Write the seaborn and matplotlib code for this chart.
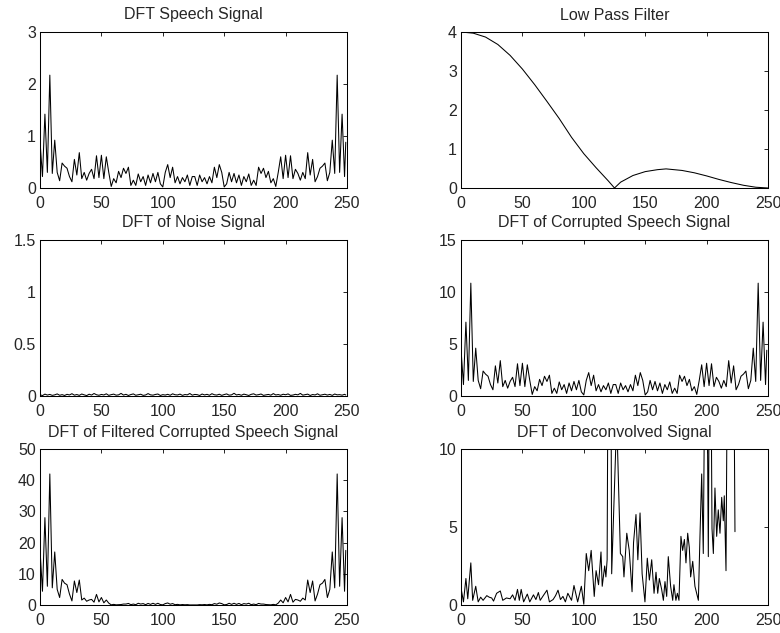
import matplotlib
matplotlib.use("Agg")
import matplotlib.pyplot as plt
import seaborn as sns
import pandas as pd

# ---------------- data ----------------
bins = list(range(0, 250, 2)) + [249]

speech = [0.90, 0.22, 1.42, 0.30, 2.17, 0.28, 0.92, 0.30, 0.14, 0.48,
          0.42, 0.38, 0.22, 0.12, 0.55, 0.25, 0.68, 0.18, 0.30, 0.15,
          0.28, 0.36, 0.18, 0.62, 0.20, 0.63, 0.18, 0.60, 0.30, 0.03,
          0.18, 0.10, 0.32, 0.20, 0.38, 0.28, 0.40, 0.05, 0.15, 0.05,
          0.27, 0.12, 0.22, 0.05, 0.25, 0.10, 0.28, 0.12, 0.30, 0.08,
          0.02, 0.30, 0.45, 0.20, 0.40, 0.10, 0.22, 0.08, 0.20, 0.12,
          0.25, 0.05, 0.22,
          0.22, 0.05, 0.25, 0.12, 0.20, 0.08, 0.22, 0.10, 0.40, 0.20,
          0.45, 0.30, 0.02, 0.08, 0.30, 0.12, 0.28, 0.10, 0.25, 0.05,
          0.22, 0.12, 0.27, 0.05, 0.15, 0.05, 0.40, 0.28, 0.38, 0.20,
          0.32, 0.10, 0.18, 0.03, 0.30, 0.60, 0.18, 0.63, 0.20, 0.62,
          0.18, 0.36, 0.28, 0.15, 0.30, 0.18, 0.68, 0.25, 0.55, 0.12,
          0.22, 0.38, 0.42, 0.48, 0.14, 0.30, 0.92, 0.28, 2.17, 0.30,
          1.42, 0.22, 0.88]

noise = [0.012, 0.004, 0.018, 0.009, 0.015, 0.006, 0.011, 0.020, 0.007, 0.013,
         0.005, 0.016, 0.010, 0.022, 0.008, 0.014, 0.006, 0.019, 0.011, 0.004,
         0.017, 0.009, 0.024, 0.012, 0.007, 0.015, 0.010, 0.021, 0.006, 0.013,
         0.018, 0.008, 0.011, 0.025, 0.009, 0.016, 0.005, 0.014, 0.020, 0.007,
         0.012, 0.017, 0.006, 0.010, 0.023, 0.011, 0.008, 0.015, 0.019, 0.005,
         0.013, 0.009, 0.016, 0.007, 0.021, 0.012, 0.010, 0.018, 0.006, 0.014,
         0.011, 0.024, 0.008, 0.015, 0.013, 0.005, 0.019, 0.010, 0.016, 0.007,
         0.022, 0.012, 0.009, 0.017, 0.006, 0.014, 0.020, 0.008, 0.011, 0.026,
         0.010, 0.015, 0.007, 0.018, 0.012, 0.005, 0.016, 0.021, 0.009, 0.013,
         0.019, 0.006, 0.011, 0.015, 0.008, 0.023, 0.010, 0.014, 0.007, 0.017,
         0.012, 0.020, 0.006, 0.009, 0.016, 0.011, 0.025, 0.008, 0.013, 0.018,
         0.005, 0.014, 0.010, 0.021, 0.007, 0.012, 0.017, 0.009, 0.015, 0.006,
         0.019, 0.011, 0.013, 0.008, 0.016, 0.010]

corrupted = [4.5, 1.1, 7.1, 1.5, 10.85, 1.4, 4.6, 1.5, 0.7, 2.4,
             2.1, 1.9, 1.1, 0.6, 2.9, 1.25, 3.4, 0.9, 1.5, 0.75,
             1.4, 1.8, 0.9, 3.1, 1.0, 3.15, 0.9, 3.0, 1.5, 0.15,
             0.9, 0.5, 1.6, 1.0, 1.9, 1.4, 2.0, 0.25, 0.75, 0.25,
             1.35, 0.6, 1.1, 0.25, 1.25, 0.5, 1.4, 0.6, 1.5, 0.4,
             0.1, 1.5, 2.25, 1.0, 2.0, 0.5, 1.1, 0.4, 1.0, 0.6,
             1.25, 0.25, 1.1,
             1.1, 0.25, 1.25, 0.6, 1.0, 0.4, 1.1, 0.5, 2.0, 1.0,
             2.25, 1.5, 0.1, 0.4, 1.5, 0.6, 1.4, 0.5, 1.25, 0.25,
             1.1, 0.6, 1.35, 0.25, 0.75, 0.25, 2.0, 1.4, 1.9, 1.0,
             1.6, 0.5, 0.9, 0.15, 1.5, 3.0, 0.9, 3.15, 1.0, 3.1,
             0.9, 1.8, 1.4, 0.75, 1.5, 0.9, 3.4, 1.25, 2.9, 0.6,
             1.1, 1.9, 2.1, 2.4, 0.7, 1.5, 4.6, 1.4, 10.85, 1.5,
             7.1, 1.1, 4.4]

filtered = [17.8, 4.4, 28.0, 6.0, 42.0, 5.5, 17.0, 5.0, 2.4, 8.2,
            7.0, 6.5, 3.5, 1.3, 7.7, 4.0, 8.0, 1.6, 2.2, 1.2,
            1.6, 1.8, 0.9, 3.4, 1.0, 2.4, 0.7, 1.6, 0.6, 0.05,
            0.2, 0.05, 0.1, 0.15, 0.3, 0.3, 0.5, 0.1, 0.3, 0.1,
            0.55, 0.3, 0.45, 0.1, 0.5, 0.2, 0.55, 0.2, 0.55, 0.15,
            0.05, 0.45, 0.65, 0.25, 0.45, 0.1, 0.2, 0.05, 0.15, 0.07,
            0.12, 0.02, 0.03,
            0.03, 0.02, 0.12, 0.07, 0.15, 0.05, 0.2, 0.1, 0.45, 0.25,
            0.65, 0.45, 0.05, 0.15, 0.55, 0.2, 0.55, 0.2, 0.5, 0.1,
            0.45, 0.3, 0.55, 0.1, 0.3, 0.1, 0.5, 0.3, 0.3, 0.15,
            0.1, 0.05, 0.2, 0.05, 0.6, 1.6, 0.7, 2.4, 1.0, 3.4,
            0.9, 1.8, 1.6, 1.2, 2.2, 1.6, 8.0, 4.0, 7.7, 1.3,
            3.5, 6.5, 7.0, 8.2, 2.4, 5.0, 17.0, 5.5, 42.0, 6.0,
            28.0, 4.4, 17.5]

lpf_k = [0, 10, 20, 30, 40, 50, 60, 70, 80, 90, 100, 110, 120, 125,
         130, 140, 150, 160, 167, 180, 190, 200, 210, 220, 230, 240, 250]
lpf_mag = [4.0, 3.97, 3.87, 3.68, 3.40, 3.05, 2.65, 2.22, 1.78, 1.30, 0.88,
           0.52, 0.18, 0.0, 0.15, 0.32, 0.42, 0.47, 0.49, 0.45, 0.39,
           0.31, 0.22, 0.14, 0.07, 0.02, 0.0]

deconv_k = [0, 2, 4, 5.5, 8, 9.5, 12, 14, 16, 18, 21, 23, 25, 26.5, 29, 32,
            34, 37, 40, 42, 44, 46, 47.5, 49, 51, 54, 56, 59, 61, 63, 64.5,
            67, 70, 72, 75, 77, 79, 81, 83, 85, 87, 90, 92, 95, 98, 100,
            102, 104, 106, 108.5, 110, 112, 114, 115, 117, 118, 119, 121,
            122.7, 126.8, 129.8, 131.7, 132.7, 135, 137, 139.3, 140.5,
            142.5, 144, 145.8, 147.5, 149.8, 151.7, 153.4, 155.3, 157.2,
            158.8, 160.2, 161.5, 163.4, 164.8, 166.1, 167.5, 168.8, 170.7,
            172.4, 173.4, 175, 176.2, 177.5, 179.1, 180.5, 181.9, 183.2,
            184.6, 185.9, 187, 188.7, 190.5, 191.9, 193.3, 194.6, 196,
            197.3, 199.5, 201.4, 202.8, 204.4, 205.5, 206.8, 208.2, 209.5,
            210.9, 212.3, 213.6, 214.4, 215.8, 218, 221, 223.1]
deconv_mag = [1.1, 0.2, 1.7, 0.4, 2.7, 0.3, 1.2, 0.2, 0.5, 0.3, 0.6, 0.5,
              0.45, 0.25, 0.75, 0.9, 0.3, 0.45, 0.4, 0.65, 0.3, 1.0, 0.3,
              1.0, 0.2, 0.7, 0.2, 0.65, 0.35, 0.8, 0.3, 0.6, 0.95, 0.2,
              0.35, 0.6, 0.95, 0.35, 0.55, 0.2, 0.75, 0.3, 1.25, 0.2, 1.2,
              0.05, 3.3, 2.2, 3.5, 0.55, 2.2, 1.3, 3.4, 1.2, 2.5, 1.8, 2.9,
              40.0, 2.0, 12.0, 3.3, 3.1, 1.8, 4.6, 3.5, 0.85, 4.0, 5.8,
              2.9, 5.9, 2.0, 0.2, 3.0, 1.6, 2.9, 0.75, 2.1, 0.75, 1.7, 1.0,
              0.3, 1.5, 0.55, 3.1, 1.2, 0.3, 1.3, 0.3, 0.75, 0.3, 4.4, 3.5,
              4.2, 2.7, 4.6, 3.7, 1.8, 2.8, 1.2, 0.75, 0.3, 4.4, 8.4, 3.3,
              25.0, 3.1, 25.0, 4.9, 3.3, 7.5, 4.4, 6.1, 4.6, 6.9, 5.4, 7.0,
              2.2, 30.0, 30.0, 4.7]

titles = ["DFT Speech Signal", "Low Pass Filter", "DFT of Noise Signal",
          "DFT of Corrupted Speech Signal",
          "DFT of Filtered Corrupted Speech Signal",
          "DFT of Deconvolved Signal"]
x_ticks = [0, 50, 100, 150, 200, 250]
y_ticks = [[0, 1, 2, 3], [0, 1, 2, 3, 4], [0, 0.5, 1, 1.5],
           [0, 5, 10, 15], [0, 10, 20, 30, 40, 50], [0, 5, 10]]
y_tick_labels = [["0", "1", "2", "3"], ["0", "1", "2", "3", "4"],
                 ["0", "0.5", "1", "1.5"], ["0", "5", "10", "15"],
                 ["0", "10", "20", "30", "40", "50"], ["0", "5", "10"]]

series = [(bins, speech), (lpf_k, lpf_mag), (bins, noise),
          (bins, corrupted), (bins, filtered), (deconv_k, deconv_mag)]

# ---------------- drawing ----------------
sns.set_style("white")
plt.rcParams["font.family"] = ["Liberation Sans", "DejaVu Sans"]
FS = 11.5
plt.rcParams["font.size"] = FS

W, H = 780, 633
fig = plt.figure(figsize=(W / 100, H / 100), dpi=100)

col_left = [40, 461]
row_top = [32, 240, 449]
ax_w, ax_h = 307, 156

for i, (xs, ys) in enumerate(series):
    r, c = divmod(i, 2)
    left = col_left[c] / W
    bottom = (H - row_top[r] - ax_h) / H
    ax = fig.add_axes([left, bottom, ax_w / W, ax_h / H])
    df = pd.DataFrame({"k": xs, "mag": ys})
    sns.lineplot(data=df, x="k", y="mag", ax=ax, color="black",
                 linewidth=0.75, sort=False, estimator=None)
    ax.set_xlim(0, 250)
    yt = y_ticks[i]
    ax.set_ylim(yt[0], yt[-1])
    ax.set_xticks(x_ticks)
    ax.set_xticklabels([str(t) for t in x_ticks])
    ax.set_yticks(yt)
    ax.set_yticklabels(y_tick_labels[i])
    ax.set_xlabel("")
    ax.set_ylabel("")
    ax.set_title(titles[i], fontsize=FS, pad=9)
    ax.tick_params(direction="in", top=True, right=True, length=3,
                   width=0.6, labelsize=FS, color="black")
    ax.tick_params(axis="x", pad=6)
    ax.tick_params(axis="y", pad=3)
    for sp in ax.spines.values():
        sp.set_visible(True)
        sp.set_color("black")
        sp.set_linewidth(0.75)

fig.savefig("out.png", dpi=100)
